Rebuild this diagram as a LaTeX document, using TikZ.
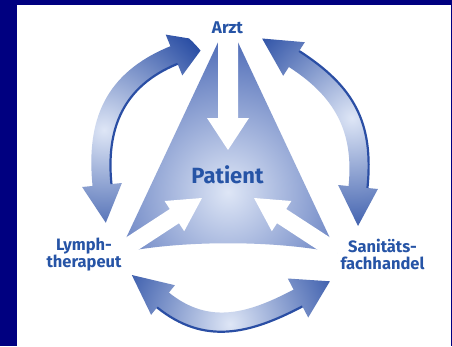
\documentclass[tikz,border=0pt]{standalone}
\usepackage{fontspec}
\setmainfont{Fira Sans}
\definecolor{navy}{RGB}{0,0,128}
\definecolor{txtblue}{RGB}{38,84,166}
\definecolor{darkb}{RGB}{42,78,164}
\definecolor{midb}{RGB}{62,94,176}
\definecolor{lightb}{RGB}{222,230,246}
\begin{document}
\begin{tikzpicture}[x=1pt,y=-1pt,
  lbl/.style={text=txtblue, align=center, inner sep=0pt},
  band/.style={draw=none},
  edge/.style={draw=darkb, line width=2.2pt},
  hole/.style={fill=white, draw=none}]
\fill[navy] (0,0) rectangle (452,346);
\fill[white] (17,5) rectangle (450.5,346);
\useasboundingbox (0,0) rectangle (452,346);
\coordinate (tc) at (228,198);
\coordinate (lc) at (104,130);
\coordinate (rc) at (352,118);
\coordinate (bc) at (230,324);
% central triangle
\path[path picture={\shade[inner color=lightb, outer color=midb] (tc) circle (165pt);}]
  (228,21) -- (337,253) .. controls (276,240) and (180,240) .. (119,253) -- cycle;
% white arrows into the centre
\fill[hole] (218,8) -- (238,8) -- (238,118) -- (249,118) -- (228,150) -- (207,118) -- (218,118) -- cycle;
\fill[hole] (202,198) -- (184.2,231.2) -- (179.0,223.2) -- (123.0,259.8) -- (113.6,245.6) -- (169.8,209.0) -- (164.6,201.0) -- cycle;
\fill[hole] (254,198) -- (271.8,231.2) -- (277.0,223.2) -- (333.0,259.8) -- (342.4,245.6) -- (286.2,209.0) -- (291.4,201.0) -- cycle;
% left double arrow
\path[band, path picture={\shade[inner color=lightb, outer color=darkb] (lc) circle (125pt);}]
  (92.55,185.95) .. controls (86.0,120.55) and (104.5,73.1) .. (170.41,46.2)
  -- (165.7,34.6) -- (207.3,41.4) -- (182.3,75.4) -- (177.59,63.8)
  .. controls (122.5,86.3) and (106.0,129.45) .. (111.45,184.05)
  -- (121.9,183) -- (105.8,222.8) -- (82.1,187) -- cycle;
\draw[edge] (177.59,63.8) .. controls (122.5,86.3) and (106.0,129.45) .. (111.45,184.05);
% right double arrow
\path[band, path picture={\shade[inner color=lightb, outer color=darkb] (rc) circle (125pt);}]
  (367.45,187.95) .. controls (374.0,122.55) and (354.0,86.3) .. (299.13,51.02)
  -- (304.8,42.2) -- (262.1,38.5) -- (283.2,75.8) -- (288.87,66.98)
  .. controls (334.8,96.5) and (354.0,131.45) .. (348.55,186.05)
  -- (338.1,185) -- (358,226) -- (377.9,189) -- cycle;
\draw[edge] (367.45,187.95) .. controls (374.0,122.55) and (354.0,86.3) .. (299.13,51.02);
% bottom double arrow
\path[band, path picture={\shade[inner color=lightb, outer color=darkb] (bc) circle (125pt);}]
  (157.06,307.41) .. controls (204.1,345.1) and (249.0,334.4) .. (302.41,306.41)
  -- (308.2,317.5) -- (329.9,281.3) -- (287.8,278.5) -- (293.59,289.59)
  .. controls (247.8,313.6) and (209.2,324.9) .. (168.94,292.59)
  -- (174.9,285.2) -- (131.8,275) -- (151.1,314.8) -- cycle;
\draw[edge] (157.06,307.41) .. controls (204.1,345.1) and (249.0,334.4) .. (302.41,306.41);
% labels
\node[lbl, font=\bfseries\fontsize{17}{17}\selectfont] (arzt) at (227.5,27.5) {Arzt};
\node[lbl, font=\bfseries\fontsize{22}{22}\selectfont] (patient) at (227.5,174.5) {Patient};
\node[lbl, font=\bfseries\fontsize{16.5}{16.5}\selectfont] (lymph) at (84,254.5) {Lymph-\\therapeut};
\node[lbl, font=\bfseries\fontsize{16.5}{16.5}\selectfont] (sani) at (382.5,254.5) {Sanitäts-\\fachhandel};
\end{tikzpicture}
\end{document}
